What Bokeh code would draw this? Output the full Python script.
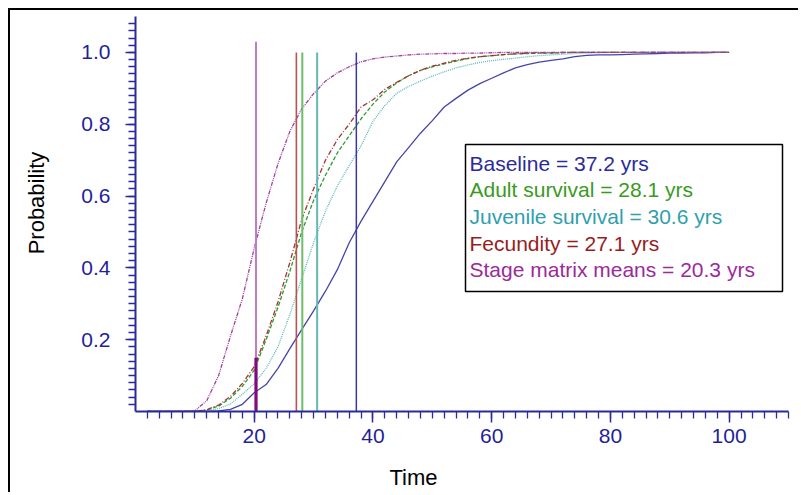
import math
from bokeh.plotting import figure
from bokeh.models import (Range1d, FixedTicker, Label, LabelSet, BoxAnnotation,
                          ColumnDataSource, PrintfTickFormatter)
from bokeh.embed import file_html
from bokeh.resources import INLINE
from bokeh.core.properties import value

# ---------------- data ----------------
time = list(range(2, 101, 2))

names = ["Baseline", "Adult survival", "Juvenile survival", "Fecundity", "Stage matrix means"]
mean_years = [37.2, 28.1, 30.6, 27.1, 20.3]
marker_tops = [1.0, 1.0, 1.0, 1.0, 1.03]
stage_overlay = [0.0, 0.15]

baseline = [0, 0, 0, 0, 0, 0, 0.002, 0.006, 0.02, 0.052, 0.075, 0.12, 0.175, 0.228, 0.28,
            0.335, 0.395, 0.47, 0.53, 0.585, 0.64, 0.695, 0.735, 0.775, 0.81, 0.848, 0.872,
            0.895, 0.913, 0.928, 0.943, 0.957, 0.966, 0.973, 0.978, 0.982, 0.988, 0.992,
            0.993, 0.993, 0.994, 0.995, 0.996, 0.997, 0.998, 0.998, 0.999, 0.999, 1.0, 1.0]
adult = [0, 0, 0, 0, 0, 0.004, 0.015, 0.037, 0.07, 0.115, 0.2, 0.29, 0.39, 0.5, 0.588,
         0.658, 0.72, 0.768, 0.815, 0.856, 0.89, 0.915, 0.935, 0.95, 0.96, 0.968, 0.976,
         0.983, 0.988, 0.991, 0.994, 0.996, 0.997, 0.998, 0.998, 0.999, 1.0, 1.0, 1.0, 1.0,
         1.0, 1.0, 1.0, 1.0, 1.0, 1.0, 1.0, 1.0, 1.0, 1.0]
juvenile = [0, 0, 0, 0, 0, 0.002, 0.008, 0.021, 0.048, 0.078, 0.12, 0.18, 0.27, 0.37, 0.47,
            0.558, 0.628, 0.685, 0.74, 0.808, 0.852, 0.886, 0.905, 0.92, 0.934, 0.946, 0.957,
            0.965, 0.972, 0.977, 0.981, 0.984, 0.988, 0.991, 0.993, 0.995, 0.997, 0.998, 0.999,
            1.0, 1.0, 1.0, 1.0, 1.0, 1.0, 1.0, 1.0, 1.0, 1.0, 1.0]
fecundity = [0, 0, 0, 0, 0, 0.005, 0.018, 0.042, 0.078, 0.125, 0.21, 0.305, 0.415, 0.535, 0.62,
             0.7, 0.757, 0.8, 0.848, 0.868, 0.897, 0.917, 0.935, 0.95, 0.962, 0.97, 0.978,
             0.984, 0.988, 0.991, 0.994, 0.996, 0.998, 0.999, 0.999, 1.0, 1.0, 1.0, 1.0, 1.0,
             1.0, 1.0, 1.0, 1.0, 1.0, 1.0, 1.0, 1.0, 1.0, 1.0]
stage = [0, 0, 0, 0, 0.002, 0.03, 0.1, 0.21, 0.314, 0.455, 0.58, 0.69, 0.78, 0.843, 0.885,
         0.92, 0.943, 0.96, 0.974, 0.982, 0.987, 0.99, 0.993, 0.995, 0.996, 0.997, 0.997,
         0.998, 0.998, 0.999, 1.0, 1.0, 1.0, 1.0, 1.0, 1.0, 1.0, 1.0, 1.0, 1.0, 1.0, 1.0,
         1.0, 1.0, 1.0, 1.0, 1.0, 1.0, 1.0, 1.0]

x_major_ticks = [20, 40, 60, 80, 100]
x_minor_ticks = list(range(2, 111, 2))
y_major_ticks = [0.2, 0.4, 0.6, 0.8, 1.0]
y_minor_ticks = [round(0.02 * i, 2) for i in range(1, 55)]

# ---------------- styles ----------------
FONT = "Liberation Sans"
AXIS_COLOR = "#2a2a9c"
curve_colors = ["#4545a8", "#2f9a2f", "#5cb8bc", "#a33333", "#a040a0"]
curve_dashes = ["solid", "4 2", "1 1", "5 2 1 2", "4 1 1 1 1 1"]
vline_colors = ["#3838a6", "#6cbd6c", "#66b8b8", "#b5554f", "#c27ac2"]
vline_widths = [1.5, 2, 2, 1.6, 2]
text_colors = ["#2b2b9b", "#3a9a1e", "#2ea0ae", "#991c1c", "#9b2a9b"]

X_MIN, X_MAX = 0, 110
Y_MIN, Y_MAX = 0, 1.1

# page layout: figure host at (8, 8) with a 2px black border top/left -> canvas at (10, 10)
W, H = 790, 484
ML, MT = 125, 6          # frame offset inside canvas
FRAME_W, FRAME_H = 653, 395
p = figure(width=W, height=H, output_backend="svg", toolbar_location=None,
           x_range=Range1d(X_MIN, X_MAX), y_range=Range1d(Y_MIN, Y_MAX),
           min_border_left=ML, min_border_right=W - ML - FRAME_W,
           min_border_top=MT, min_border_bottom=H - MT - FRAME_H,
           background_fill_color="white", border_fill_color="white")
p.styles = {"margin-left": "8px", "margin-top": "8px",
            "border-top": "2px solid black", "border-left": "2px solid black"}
p.outline_line_color = None
p.xgrid.grid_line_color = None
p.ygrid.grid_line_color = None

for ax in (p.xaxis[0], p.yaxis[0]):
    ax.axis_line_color = AXIS_COLOR
    ax.axis_line_width = 2
    ax.major_tick_line_color = AXIS_COLOR
    ax.minor_tick_line_color = AXIS_COLOR
    ax.major_tick_line_width = 1.5
    ax.minor_tick_line_width = 1.3
    ax.major_tick_in = 0
    ax.minor_tick_in = 0
    ax.major_label_text_font = FONT
    ax.major_label_text_font_size = "21px"
    ax.major_label_text_color = "#1f1f9c"

p.xaxis[0].ticker = FixedTicker(ticks=x_major_ticks, minor_ticks=x_minor_ticks)
p.yaxis[0].ticker = FixedTicker(ticks=y_major_ticks, minor_ticks=y_minor_ticks)
p.yaxis[0].formatter = PrintfTickFormatter(format="%.1f")
p.xaxis[0].major_tick_out = 11
p.xaxis[0].minor_tick_out = 7
p.yaxis[0].major_tick_out = 10
p.yaxis[0].minor_tick_out = 7
p.xaxis[0].major_label_standoff = 6
p.yaxis[0].major_label_standoff = 15

# ---------------- curves ----------------
series = [baseline, adult, juvenile, fecundity, stage]
for ys, c, d in zip(series, curve_colors, curve_dashes):
    p.line(time, ys, line_color=c, line_width=1.3, line_dash=d)

# vertical mean markers
p.segment(x0=mean_years, y0=[0] * len(mean_years), x1=mean_years, y1=marker_tops,
          line_color=vline_colors, line_width=vline_widths)
p.segment(x0=[mean_years[4]], y0=[stage_overlay[0]], x1=[mean_years[4]], y1=[stage_overlay[1]],
          line_color="#7e0a7e", line_width=3.2)

# ---------------- position helpers ----------------
FRAME_LEFT_PAGE = 10 + ML
FRAME_BOTTOM_PAGE = 10 + MT + FRAME_H

def sx(page_x):
    return page_x - FRAME_LEFT_PAGE

def sy(page_y):
    return FRAME_BOTTOM_PAGE - page_y

def dx(page_x):   # page pixel -> data x (for placing side-panel titles)
    return X_MIN + (page_x - FRAME_LEFT_PAGE) * (X_MAX - X_MIN) / FRAME_W

def dy(page_y):
    return Y_MIN + (FRAME_BOTTOM_PAGE - page_y) * (Y_MAX - Y_MIN) / FRAME_H

# legend box
box = BoxAnnotation(left=sx(465), right=sx(782), top=sy(144), bottom=sy(291),
                    left_units="screen", right_units="screen", top_units="screen",
                    bottom_units="screen", fill_color="white", fill_alpha=1.0,
                    line_color="black", line_alpha=1.0, line_width=1.5)
p.add_layout(box)

labels = [f"{n} = {m} yrs" for n, m in zip(names, mean_years)]
row_y = [sy(162.5 + 26.7 * i) for i in range(len(labels))]
src = ColumnDataSource(dict(x=[sx(469)] * len(labels), y=row_y, text=labels, color=text_colors))
ls = LabelSet(x="x", y="y", text="text", source=src, x_units="screen", y_units="screen",
              text_color="color", text_font=value(FONT), text_font_size="21px",
              text_baseline="middle", text_align="left")
p.add_layout(ls)

# axis titles, placed in the side panels (not clipped by the frame)
p.add_layout(Label(x=dx(413), y=dy(477), text="Time",
                   text_font=FONT, text_font_size="22px", text_color="black",
                   text_align="center", text_baseline="alphabetic"), "below")
p.add_layout(Label(x=dx(36), y=dy(202.5), text="Probability",
                   text_font=FONT, text_font_size="22px", text_color="black",
                   text_align="center", text_baseline="middle", angle=math.pi / 2), "left")

open("out.html", "w").write(file_html(p, INLINE))
